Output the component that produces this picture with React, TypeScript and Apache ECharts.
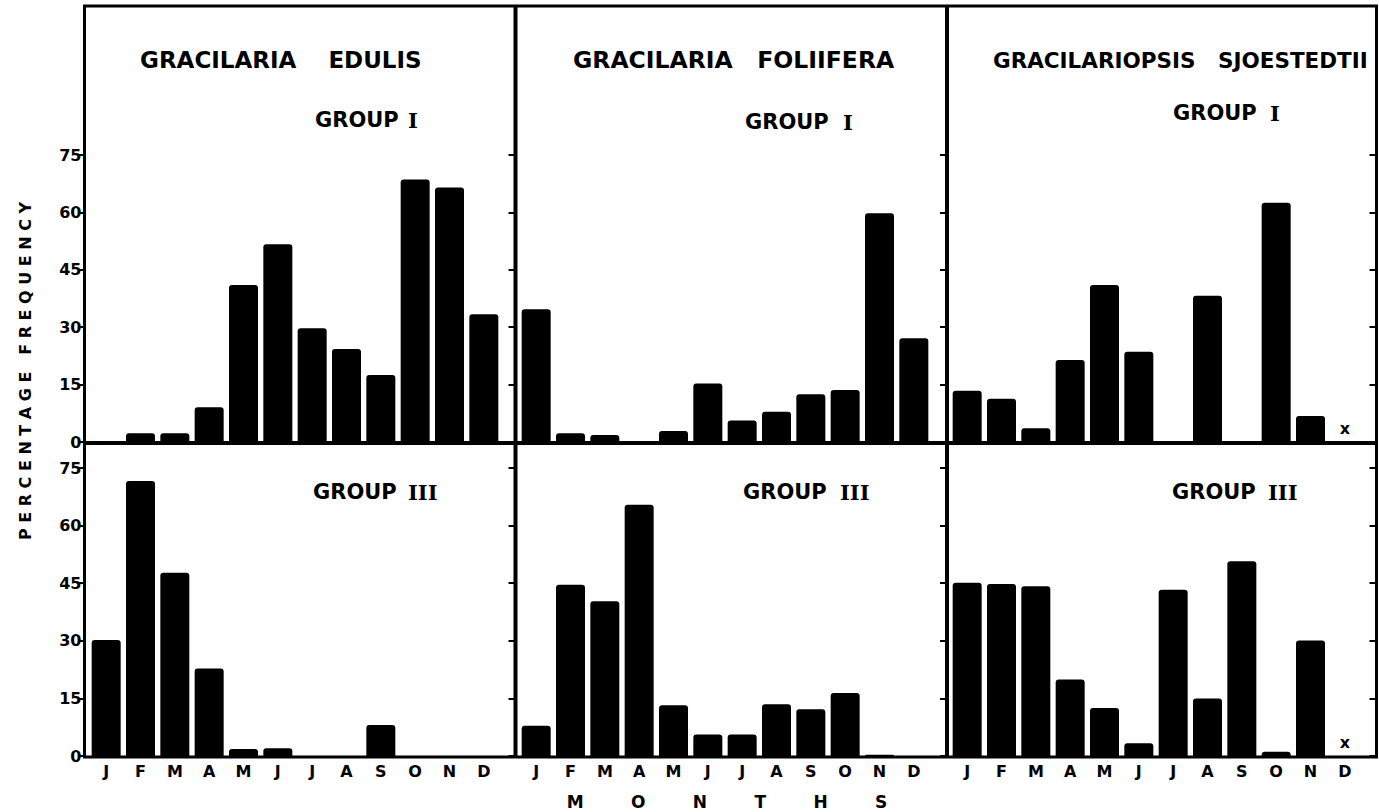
import { useEffect, useRef } from 'react';
import * as echarts from 'echarts';

// ---- data ----
const MONTHS = ['J', 'F', 'M', 'A', 'M', 'J', 'J', 'A', 'S', 'O', 'N', 'D'];
const Y_TICKS = [0, 15, 30, 45, 60, 75];
const SPECIES = ['GRACILARIA EDULIS', 'GRACILARIA FOLIIFERA', 'GRACILARIOPSIS SJOESTEDTII'];
const GROUP_WORD = 'GROUP';
const GROUP_NUMERALS = ['I', 'III'];
const Y_TITLE = 'PERCENTAGE FREQUENCY';
const X_TITLE = 'MONTHS';
const NO_DATA_MARK = 'x';

// null = no sample (marked with "x")
const edulisG1 = [0, 2.3, 2.3, 9.1, 41, 51.7, 29.7, 24.3, 17.5, 68.6, 66.5, 33.4];
const edulisG3 = [30.2, 71.6, 47.7, 22.8, 1.8, 2, 0, 0, 8.1, 0, 0, 0];
const foliiferaG1 = [34.7, 2.3, 1.8, 0, 2.9, 15.3, 5.6, 7.9, 12.5, 13.6, 59.8, 27.1];
const foliiferaG3 = [7.9, 44.6, 40.3, 65.4, 13.2, 5.6, 5.6, 13.5, 12.2, 16.4, 0.3, 0];
const sjoestedtiiG1 = [13.4, 11.3, 3.6, 21.4, 41, 23.6, 0, 38.2, 0, 62.5, 6.8, null];
const sjoestedtiiG3 = [45.1, 44.8, 44.2, 19.9, 12.5, 3.3, 43.3, 15, 50.7, 1.1, 30.1, null];

const PANELS = [
  [edulisG1, foliiferaG1, sjoestedtiiG1],
  [edulisG3, foliiferaG3, sjoestedtiiG3],
];

// ---- layout ----
const FONT = '"DejaVu Sans", sans-serif';
const SERIF = '"DejaVu Serif", serif';
const NBSP = '\u00a0';
const COL_LEFT = [89, 519, 950];
const GRID_W = 412;
const ROW_TOP = [155, 468];
const ROW_H = [287, 288];
const DIVIDER_X = [515.5, 947, 1376.5];
const FRAME = { x1: 84.5, y1: 6, x2: 1376.5, y2: 757, mid: 443 };
const TITLE_X = [140, 573, 993];
const TITLE_SIZE = [23, 23.5, 21.5];
const TITLE_GAP = [3, 2, 2];
const GROUP_POS = [
  [{ x: 315, nx: 408, y: 120 }, { x: 745, nx: 843, y: 122 }, { x: 1173, nx: 1270, y: 113 }],
  [{ x: 313, nx: 408, y: 492 }, { x: 743, nx: 840, y: 492 }, { x: 1172, nx: 1268, y: 492 }],
];

export default function App() {
  const ref = useRef<HTMLDivElement>(null);
  useEffect(() => {
    if (!ref.current) return;
    const chart = echarts.init(ref.current, undefined, { renderer: 'svg' });

    const grids: any[] = [];
    const xAxes: any[] = [];
    const yAxes: any[] = [];
    const series: any[] = [];
    const extraY: any[] = [];

    for (let r = 0; r < 2; r++) {
      for (let c = 0; c < 3; c++) {
        const k = r * 3 + c;
        grids.push({ left: COL_LEFT[c], top: ROW_TOP[r], width: GRID_W, height: ROW_H[r] });
        xAxes.push({
          type: 'category',
          gridIndex: k,
          data: MONTHS,
          axisLine: { show: false },
          axisTick: { show: false },
          axisLabel: {
            show: r === 1,
            color: '#000',
            fontFamily: FONT,
            fontWeight: 'bold',
            fontSize: 16,
            margin: 7,
          },
        });
        yAxes.push({
          type: 'value',
          gridIndex: k,
          min: Y_TICKS[0],
          max: Y_TICKS[Y_TICKS.length - 1],
          interval: Y_TICKS[1] - Y_TICKS[0],
          position: 'right',
          offset: DIVIDER_X[c] - (COL_LEFT[c] + GRID_W),
          axisLine: { show: false },
          axisTick: { show: true, inside: true, length: 7, lineStyle: { color: '#000', width: 2 } },
          axisLabel: { show: false },
          splitLine: { show: false },
        });
        if (c === 0) {
          extraY.push({
            type: 'value',
            gridIndex: k,
            min: Y_TICKS[0],
            max: Y_TICKS[Y_TICKS.length - 1],
            interval: Y_TICKS[1] - Y_TICKS[0],
            position: 'left',
            offset: COL_LEFT[0] - FRAME.x1,
            axisLine: { show: false },
            axisTick: { show: true, length: 6, lineStyle: { color: '#000', width: 2 } },
            axisLabel: {
              show: true,
              color: '#000',
              fontFamily: FONT,
              fontWeight: 'bold',
              fontSize: 16,
              margin: 3,
            },
            splitLine: { show: false },
          });
        }
        const vals = PANELS[r][c];
        series.push({
          type: 'bar',
          name: `${SPECIES[c]} GROUP ${GROUP_NUMERALS[r]}`,
          xAxisIndex: k,
          yAxisIndex: k,
          barWidth: 29,
          itemStyle: { color: '#000', borderRadius: [3, 3, 0, 0] },
          data: vals.map((v) =>
            v === null
              ? {
                  value: 0,
                  label: {
                    show: true,
                    formatter: NO_DATA_MARK,
                    position: 'top',
                    distance: 6,
                    color: '#000',
                    fontFamily: FONT,
                    fontWeight: 'bold',
                    fontSize: 16,
                  },
                }
              : v
          ),
        });
      }
    }

    const graphic: any[] = [];
    graphic.push({
      type: 'rect',
      silent: true,
      shape: { x: FRAME.x1, y: FRAME.y1, width: FRAME.x2 - FRAME.x1, height: FRAME.y2 - FRAME.y1 },
      style: { fill: 'none', stroke: '#000', lineWidth: 3 },
    });
    [DIVIDER_X[0], DIVIDER_X[1]].forEach((x) =>
      graphic.push({
        type: 'line',
        silent: true,
        shape: { x1: x, y1: FRAME.y1, x2: x, y2: FRAME.y2 },
        style: { stroke: '#000', lineWidth: 4 },
      })
    );
    graphic.push({
      type: 'line',
      silent: true,
      shape: { x1: FRAME.x1, y1: FRAME.mid, x2: FRAME.x2, y2: FRAME.mid },
      style: { stroke: '#000', lineWidth: 4 },
    });

    SPECIES.forEach((name, c) => {
      graphic.push({
        type: 'text',
        x: TITLE_X[c],
        y: 60,
        style: {
          text: name.replace(' ', ' ' + NBSP.repeat(TITLE_GAP[c])),
          fill: '#000',
          fontFamily: FONT,
          fontWeight: 'bold',
          fontSize: TITLE_SIZE[c],
          align: 'left',
          verticalAlign: 'middle',
        },
      });
    });

    for (let r = 0; r < 2; r++) {
      for (let c = 0; c < 3; c++) {
        const p = GROUP_POS[r][c];
        graphic.push({
          type: 'text',
          x: p.x,
          y: p.y,
          style: {
            text: GROUP_WORD,
            fill: '#000',
            fontFamily: FONT,
            fontWeight: 'bold',
            fontSize: 21,
            align: 'left',
            verticalAlign: 'middle',
          },
        });
        graphic.push({
          type: 'text',
          x: p.nx,
          y: p.y,
          style: {
            text: GROUP_NUMERALS[r],
            fill: '#000',
            fontFamily: SERIF,
            fontWeight: 'bold',
            fontSize: 21,
            align: 'left',
            verticalAlign: 'middle',
          },
        });
      }
    }

    graphic.push({
      type: 'text',
      x: 25,
      y: 371,
      rotation: Math.PI / 2,
      style: {
        text: Y_TITLE.split(' ')
          .map((w) => w.split('').join(' '))
          .join(' ' + NBSP + NBSP),
        fill: '#000',
        fontFamily: FONT,
        fontWeight: 'bold',
        fontSize: 16,
        align: 'center',
        verticalAlign: 'middle',
      },
    });

    graphic.push({
      type: 'text',
      x: 727,
      y: 802,
      style: {
        text: X_TITLE.split('').join(' ' + NBSP.repeat(7)),
        fill: '#000',
        fontFamily: FONT,
        fontWeight: 'bold',
        fontSize: 17,
        align: 'center',
        verticalAlign: 'middle',
      },
    });

    chart.setOption({
      animation: false,
      backgroundColor: '#fff',
      grid: grids,
      xAxis: xAxes,
      yAxis: [...yAxes, ...extraY],
      series,
      graphic,
    });

    return () => chart.dispose();
  }, []);

  return (
    <div
      ref={ref}
      style={{ position: 'absolute', left: 0, top: 0, width: 1379, height: 812, background: '#fff' }}
    />
  );
}
